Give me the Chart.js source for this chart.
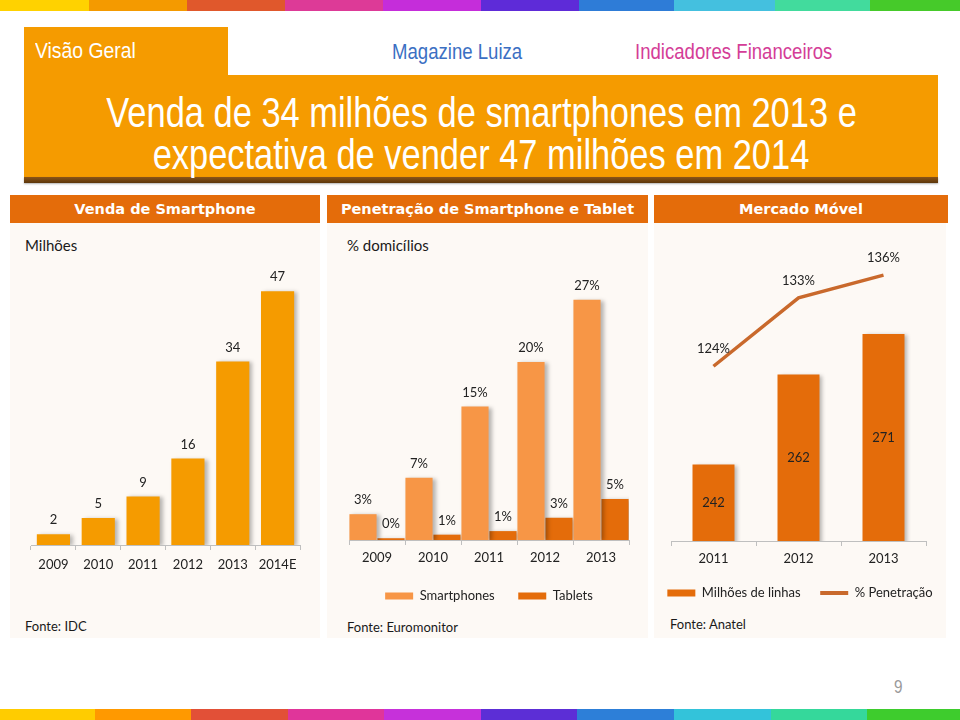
<!DOCTYPE html>
<html><head><meta charset="utf-8">
<script src="https://cdn.jsdelivr.net/npm/chart.js@4.4.1/dist/chart.umd.min.js"></script>
<style>
body{margin:0;width:960px;height:720px;position:relative;background:#fff;overflow:hidden;font-family:Lato,"Open Sans",sans-serif;}
.abs{position:absolute;}
.bar{position:absolute;left:0;width:960px;height:11px;display:flex;}
.bar div{height:100%;}
.narrow{font-family:"Liberation Sans Narrow","Liberation Sans",Arial,sans-serif;}
.sq{display:inline-block;transform-origin:0 50%;}
.hdr{position:absolute;top:195px;height:28px;background:#E46C0A;color:#fff;font-family:"DejaVu Sans",sans-serif;font-weight:bold;font-size:14.5px;line-height:28px;text-align:center;}
.panel{position:absolute;top:223px;height:415px;background:#FDF9F5;}
.txt{position:absolute;color:#1a1a1a;white-space:nowrap;}
canvas{position:absolute;}
</style></head><body>
<div class="bar" id="topbar" style="top:0"></div>
<div class="bar" id="botbar" style="top:709px"></div>

<div class="abs" style="left:24px;top:27px;width:204px;height:50px;background:#F59B00"></div>
<div class="abs" style="left:24px;top:75px;width:914px;height:103px;background:#F59B00"></div>
<div class="abs" style="left:24px;top:177px;width:914px;height:6px;background:linear-gradient(#8a5418,#5c360a);box-shadow:0 1px 2px rgba(0,0,0,0.3)"></div>
<div class="txt narrow" style="left:35px;top:39px;font-size:22px;line-height:24px;color:#fff"><span class="sq" style="transform:scaleX(0.88)">Visão Geral</span></div>
<div class="txt narrow" style="left:392px;top:40px;font-size:22px;line-height:24px;color:#3B6FC3"><span class="sq" style="transform:scaleX(0.845)">Magazine Luiza</span></div>
<div class="txt narrow" style="left:635px;top:40px;font-size:22px;line-height:24px;color:#D43D97"><span class="sq" style="transform:scaleX(0.845)">Indicadores Financeiros</span></div>
<div class="txt narrow" style="left:24px;top:92px;width:914px;text-align:center;font-size:42px;line-height:42px;color:#fff;transform:scaleX(0.82);transform-origin:50% 50%">Venda de 34 milhões de smartphones em 2013 e<br>expectativa de vender 47 milhões em 2014</div>

<div class="hdr" style="left:10px;width:310px">Venda de Smartphone</div>
<div class="hdr" style="left:327px;width:321px">Penetração de Smartphone e Tablet</div>
<div class="hdr" style="left:654px;width:294px">Mercado Móvel</div>

<div class="panel" style="left:10px;width:310px"></div>
<div class="panel" style="left:327px;width:321px"></div>
<div class="panel" style="left:654px;width:292px"></div>

<div class="txt" style="left:25px;top:236px;font-size:15px;line-height:18px">Milhões</div>
<div class="txt" style="left:347px;top:236px;font-size:15px;line-height:18px">% domicílios</div>
<div class="txt" style="left:25px;top:617px;font-size:13px;line-height:18px">Fonte: IDC</div>
<div class="txt" style="left:347px;top:618px;font-size:13px;line-height:18px">Fonte: Euromonitor</div>
<div class="txt" style="left:670px;top:615px;font-size:13px;line-height:18px">Fonte: Anatel</div>
<div class="txt narrow" style="left:894px;top:677px;font-size:18px;line-height:20px;color:#9a9a9a"><span class="sq" style="transform:scaleX(0.85)">9</span></div>

<canvas id="c1" width="310" height="360" style="left:10px;top:224px"></canvas>
<canvas id="c2" width="321" height="390" style="left:327px;top:224px"></canvas>
<canvas id="c3" width="320" height="388" style="left:640px;top:224px"></canvas>

<script>
// ---- data ----
const years1 = ['2009','2010','2011','2012','2013','2014E'];
const smartphoneSales = [2, 5, 9, 16, 34, 47];

const years2 = ['2009','2010','2011','2012','2013'];
const smartphonePenetration = [2.9, 7, 15, 20, 27];
const tabletPenetration = [0.2, 0.6, 1.0, 2.5, 4.6];

const years3 = ['2011','2012','2013'];
const mobileLines = [242, 262, 271];
const mobilePenetration = [124, 133, 136];

// ---- decoration bars ----
const topColors = ['#FFD200','#F49A00','#E0582C','#DD3A97','#C52DDA','#5E2BD8','#2E7CD7','#44C0DF','#42DB9D','#46CA2A'];
const topWidths = [89,98,98,98,98,98,95,101,95,90];
const botColors = ['#FFCC00','#FF9900','#E25037','#E0359A','#C631DA','#5C2ED6','#2D7FD8','#33C3DA','#35D89B','#3ECC2D'];
const botWidths = [95,96,97,96,97,96,97,97,96,93];
function fillBar(id, cols, ws){
  const el = document.getElementById(id);
  cols.forEach((c,i)=>{const d=document.createElement('div');d.style.background=c;d.style.width=ws[i]+'px';el.appendChild(d);});
}
fillBar('topbar', topColors, topWidths);
fillBar('botbar', botColors, botWidths);

// ---- chart plugins ----
Chart.defaults.font.family = 'Lato';
Chart.defaults.animation = false;

const valueLabels = {
  id: 'valueLabels',
  afterDatasetsDraw(chart) {
    const ctx = chart.ctx;
    chart.data.datasets.forEach((ds, i) => {
      const meta = chart.getDatasetMeta(i);
      const fmt = ds.labelFormat || (v => String(v));
      const yScale = chart.scales[meta.yAxisID];
      meta.data.forEach((el, j) => {
        const text = fmt(ds.data[j]);
        let y;
        if (ds.labelInside) {
          const base = Math.min(isFinite(el.base) ? el.base : yScale.bottom, yScale.bottom);
          y = (el.y + base) / 2;
        } else {
          y = el.y - (ds.labelOffset || 14);
        }
        ctx.save();
        ctx.font = '13px Lato';
        ctx.fillStyle = '#222';
        ctx.textAlign = 'center';
        ctx.textBaseline = 'middle';
        ctx.fillText(text, el.x, y);
        ctx.restore();
      });
    });
  }
};
const barShadow = {
  id: 'barShadow',
  beforeDatasetDraw(chart, args) {
    if (chart.getDatasetMeta(args.index).type !== 'bar') return;
    const ctx = chart.ctx;
    ctx.save();
    ctx.shadowColor = 'rgba(0,0,0,0.28)';
    ctx.shadowBlur = 4;
    ctx.shadowOffsetX = 3;
    ctx.shadowOffsetY = 1;
  },
  afterDatasetDraw(chart, args) {
    if (chart.getDatasetMeta(args.index).type !== 'bar') return;
    chart.ctx.restore();
  }
};
function xAxis(h, pad) {
  return {
    grid: { display: true, drawOnChartArea: false, drawTicks: true, tickLength: 5, color: '#BFBFBF', offset: true },
    border: { display: true, color: '#BFBFBF', width: 1 },
    ticks: { color: '#222', font: { family: 'Lato', size: 13 }, padding: pad, maxRotation: 0, autoSkip: false },
    afterFit(scale) { scale.height = h; }
  };
}
function spacerAxis(pos, w, min, max) {
  return {
    position: pos, display: true, min: min, max: max, beginAtZero: false,
    grid: { display: false }, border: { display: false }, ticks: { display: false },
    afterFit(scale) { scale.width = w; }
  };
}
function legendLabels(chart) {
  const items = Chart.defaults.plugins.legend.labels.generateLabels(chart);
  items.forEach(it => {
    const ds = chart.data.datasets[it.datasetIndex];
    if ((ds.type || chart.config.type) === 'line') {
      it.lineWidth = 4; it.strokeStyle = ds.borderColor; it.pointStyle = 'line';
    } else {
      it.lineWidth = 0; it.strokeStyle = 'rgba(0,0,0,0)'; it.pointStyle = 'rect';
    }
  });
  return items;
}

// ---- chart 1 ----
new Chart(document.getElementById('c1'), {
  type: 'bar',
  data: { labels: years1, datasets: [{
    label: 'Venda', data: smartphoneSales, backgroundColor: '#F59B00',
    barPercentage: 0.74, categoryPercentage: 1
  }]},
  options: {
    responsive: false, devicePixelRatio: 1,
    layout: { padding: { top: 51, left: 21, right: 20, bottom: 9 } },
    scales: { x: xAxis(30, 7), y: { display: false, min: 0, max: 50 } },
    plugins: { legend: { display: false }, tooltip: { enabled: false } }
  },
  plugins: [barShadow, valueLabels]
});

// ---- chart 2 ----
const pct = v => Math.round(v) + '%';
new Chart(document.getElementById('c2'), {
  type: 'bar',
  data: { labels: years2, datasets: [
    { label: 'Smartphones', data: smartphonePenetration, backgroundColor: '#F79646',
      barPercentage: 0.97, categoryPercentage: 1, labelFormat: pct },
    { label: 'Tablets', data: tabletPenetration, backgroundColor: '#E46C0A',
      barPercentage: 0.97, categoryPercentage: 1, labelFormat: pct }
  ]},
  options: {
    responsive: false, devicePixelRatio: 1,
    layout: { padding: { top: 49, left: 22, right: 19, bottom: 1.5 } },
    scales: { x: xAxis(26, 5), y: { display: false, min: 0, max: 30 } },
    plugins: {
      legend: { display: true, position: 'bottom',
        labels: { boxWidth: 28, boxHeight: 7, padding: 23.5, color: '#222', font: { family: 'Lato', size: 13 },
          usePointStyle: true, pointStyleWidth: 28, generateLabels: legendLabels } },
      tooltip: { enabled: false }
    }
  },
  plugins: [barShadow, valueLabels]
});

// ---- chart 3 ----
new Chart(document.getElementById('c3'), {
  type: 'bar',
  data: { labels: years3, datasets: [
    { type: 'bar', label: 'Milhões de linhas', data: mobileLines, backgroundColor: '#E46C0A',
      barPercentage: 0.494, categoryPercentage: 1, yAxisID: 'y', labelInside: true },
    { type: 'line', label: '% Penetração', data: mobilePenetration, borderColor: '#C9692C', backgroundColor: '#C9692C',
      borderWidth: 3.5, pointRadius: 0, tension: 0, yAxisID: 'y1', labelFormat: v => v + '%', labelOffset: 17 }
  ]},
  options: {
    responsive: false, devicePixelRatio: 1,
    layout: { padding: { top: 24.5, left: 0, right: 0, bottom: 2.5 } },
    scales: {
      x: xAxis(26, 5),
      y: spacerAxis('left', 31, 225, 290),
      y1: spacerAxis('right', 34, 101, 139.5)
    },
    plugins: {
      legend: { display: true, position: 'bottom',
        labels: { boxWidth: 28, boxHeight: 7, padding: 19.5, color: '#222', font: { family: 'Lato', size: 13 },
          usePointStyle: true, pointStyleWidth: 28, generateLabels: legendLabels } },
      tooltip: { enabled: false }
    }
  },
  plugins: [barShadow, valueLabels]
});
</script>
</body></html>
